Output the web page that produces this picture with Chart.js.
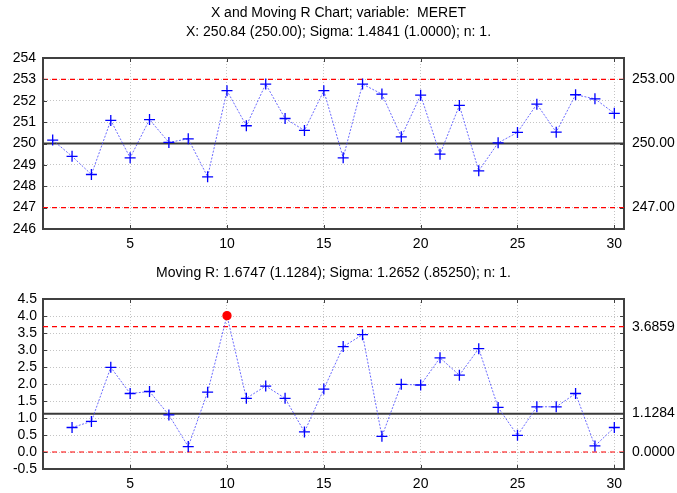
<!DOCTYPE html>
<html>
<head>
<meta charset="utf-8">
<script src="https://cdn.jsdelivr.net/npm/chart.js@4.4.1/dist/chart.umd.min.js"></script>
<style>
  html, body { margin: 0; padding: 0; background: #ffffff; }
  #wrap { position: relative; width: 677px; height: 493px; }
  canvas { position: absolute; left: 0; display: block; }
</style>
</head>
<body>
<div id="wrap">
  <canvas id="xChart" width="677" height="252" style="top:0"></canvas>
  <canvas id="mrChart" width="677" height="241" style="top:252px"></canvas>
</div>
<script>
// Individual measurements of MERET, samples 1..30
const samples = [1, 2, 3, 4, 5, 6, 7, 8, 9, 10, 11, 12, 13, 14, 15,
                 16, 17, 18, 19, 20, 21, 22, 23, 24, 25, 26, 27, 28, 29, 30];
const xValues = [250.16, 249.40, 248.55, 251.08, 249.33, 251.12, 250.05, 250.22, 248.44, 252.47,
                 250.83, 252.78, 251.17, 250.61, 252.47, 249.33, 252.78, 252.31, 250.31, 252.26,
                 249.50, 251.78, 248.72, 250.03, 250.52, 251.84, 250.53, 252.28, 252.09, 251.41];

// Moving ranges, samples 2..30
const mrSamples = samples.slice(1);
const mrValues = [0.72, 0.90, 2.49, 1.72, 1.78, 1.09, 0.16, 1.76, 4.01, 1.58,
                  1.94, 1.58, 0.59, 1.85, 3.10, 3.45, 0.46, 1.99, 1.97, 2.77,
                  2.26, 3.04, 1.31, 0.49, 1.33, 1.33, 1.72, 0.18, 0.72];

// Control limits: [LCL, center, UCL]
const xLimits = [247, 250, 253];
const mrLimits = [0, 1.1284, 3.6859];

// Axis ticks
const xAxisTicks = [5, 10, 15, 20, 25, 30];
const xChartTicks = [246, 247, 248, 249, 250, 251, 252, 253, 254];
const mrChartTicks = [-0.5, 0, 0.5, 1, 1.5, 2, 2.5, 3, 3.5, 4, 4.5];
const sampleRange = [0.5, 30.5];

// Titles
const xTitle = ['X and Moving R Chart; variable:  MERET',
                'X: 250.84 (250.00); Sigma: 1.4841 (1.0000); n: 1.'];
const mrTitle = ['Moving R: 1.6747 (1.1284); Sigma: 1.2652 (.85250); n: 1.'];

const FONT = "'Liberation Sans', Arial, Helvetica, sans-serif";
const AXIS = '#404040';
Chart.defaults.font.family = FONT;
Chart.defaults.color = '#000000';

// Closes the frame on top and draws the short inward tick marks
const framePlugin = {
  id: 'frame',
  afterDraw(chart) {
    const { ctx, chartArea: a, scales } = chart;
    ctx.save();
    ctx.strokeStyle = AXIS;
    ctx.lineWidth = 2;
    ctx.beginPath();
    ctx.moveTo(a.left - 1, a.top);
    ctx.lineTo(a.right + 1, a.top);
    ctx.stroke();
    ctx.lineWidth = 1;
    ctx.beginPath();
    scales.y.ticks.forEach(t => {
      const py = Math.round(scales.y.getPixelForValue(t.value)) + 0.5;
      ctx.moveTo(a.left, py); ctx.lineTo(a.left + 4, py);
      ctx.moveTo(a.right, py); ctx.lineTo(a.right - 4, py);
    });
    scales.x.ticks.forEach(t => {
      const px = Math.round(scales.x.getPixelForValue(t.value)) + 0.5;
      ctx.moveTo(px, a.bottom); ctx.lineTo(px, a.bottom - 4);
      ctx.moveTo(px, a.top); ctx.lineTo(px, a.top + 4);
    });
    ctx.stroke();
    ctx.restore();
  }
};

function limitLine(value, color, width, dash) {
  return {
    data: sampleRange.map(s => ({ x: s, y: value })),
    borderColor: color,
    borderWidth: width,
    borderDash: dash,
    pointRadius: 0,
    fill: false,
    order: 2
  };
}

function buildChart(canvasId, xs, ys, limits, yTicks, decimals, title, titlePad, titleFull, xAxisHeight, leftPad) {
  const ucl = limits[2];
  const series = {
    data: xs.map((s, i) => ({ x: s, y: ys[i] })),
    borderColor: 'rgba(70, 70, 255, 0.8)',
    borderWidth: 1,
    borderDash: [2, 1.5],
    pointStyle: c => (c.raw && c.raw.y > ucl ? 'circle' : 'cross'),
    pointRadius: c => (c.raw && c.raw.y > ucl ? 4 : 5.5),
    pointBorderColor: c => (c.raw && c.raw.y > ucl ? '#ff0000' : '#0000ff'),
    pointBackgroundColor: c => (c.raw && c.raw.y > ucl ? '#ff0000' : '#0000ff'),
    pointBorderWidth: 1.3,
    fill: false,
    order: 0
  };
  const yMin = yTicks[0], yMax = yTicks[yTicks.length - 1];
  return new Chart(document.getElementById(canvasId), {
    type: 'line',
    data: {
      datasets: [
        limitLine(limits[0], '#ff0000', 1.2, [5, 4]),
        limitLine(limits[2], '#ff0000', 1.2, [5, 4]),
        limitLine(limits[1], '#3a3a3a', 2, []),
        series
      ]
    },
    options: {
      responsive: false,
      devicePixelRatio: 1,
      animation: false,
      layout: { padding: 0 },
      plugins: {
        legend: { display: false },
        tooltip: { enabled: false },
        title: {
          display: true,
          fullSize: titleFull,
          text: title,
          color: '#000000',
          font: { family: FONT, size: 14, weight: 'normal', lineHeight: 19 / 14 },
          padding: titlePad
        }
      },
      scales: {
        x: {
          type: 'linear',
          min: sampleRange[0],
          max: sampleRange[1],
          afterBuildTicks: s => { s.ticks = xAxisTicks.map(v => ({ value: v })); },
          afterFit: s => { s.height = xAxisHeight; },
          ticks: { font: { size: 14 }, color: '#000000', padding: 7, maxRotation: 0, autoSkip: false },
          grid: { color: '#c4c4c4', lineWidth: 1, drawTicks: false },
          border: { display: true, color: AXIS, width: 2, dash: [1, 2] }
        },
        y: {
          type: 'linear',
          position: 'left',
          min: yMin,
          max: yMax,
          afterBuildTicks: s => { s.ticks = yTicks.map(v => ({ value: v })); },
          afterFit: s => { s.width = 43; },
          ticks: {
            font: { size: 14 }, color: '#000000', padding: leftPad, autoSkip: false,
            callback: v => (decimals ? v.toFixed(1) : String(v))
          },
          grid: { color: '#c4c4c4', lineWidth: 1, drawTicks: false },
          border: { display: true, color: AXIS, width: 2, dash: [1, 2] }
        },
        yR: {
          type: 'linear',
          position: 'right',
          min: yMin,
          max: yMax,
          afterBuildTicks: s => { s.ticks = limits.map(v => ({ value: v })); },
          afterFit: s => { s.width = 53; },
          ticks: {
            font: { size: 14 }, color: '#000000', padding: 8, autoSkip: false,
            callback: v => v.toFixed(decimals ? 4 : 2)
          },
          grid: { drawOnChartArea: false, drawTicks: false },
          border: { display: true, color: AXIS, width: 2 }
        }
      }
    },
    plugins: [framePlugin]
  });
}

buildChart('xChart', samples, xValues, xLimits, xChartTicks, 0,
           xTitle, { top: 3.5, bottom: 16.5 }, true, 23, 7);
buildChart('mrChart', mrSamples, mrValues, mrLimits, mrChartTicks, 1,
           mrTitle, { top: 11.5, bottom: 16.5 }, false, 24, 6);
</script>
</body>
</html>
